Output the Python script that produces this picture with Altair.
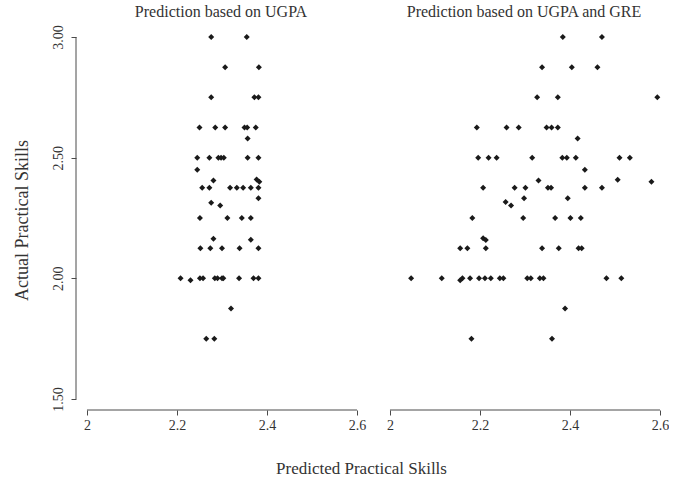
import altair as alt
import pandas as pd

# ---- data ----
left_x = [2.276, 2.355,
          2.307, 2.382,
          2.276, 2.372, 2.381,
          2.250, 2.285, 2.307, 2.350, 2.356, 2.375,
          2.357,
          2.245, 2.272, 2.292, 2.298, 2.304, 2.357, 2.381,
          2.245, 2.281, 2.377, 2.383,
          2.256, 2.272, 2.318, 2.333, 2.347, 2.364, 2.381,
          2.381, 2.276, 2.296,
          2.251, 2.312, 2.344, 2.364,
          2.281, 2.364,
          2.252, 2.274, 2.300, 2.339, 2.381,
          2.208, 2.230, 2.251, 2.258, 2.284, 2.290, 2.300, 2.303, 2.338, 2.370, 2.381,
          2.320,
          2.265, 2.283]
left_y = [3.0, 3.0,
          2.875, 2.875,
          2.75, 2.75, 2.75,
          2.625, 2.625, 2.625, 2.625, 2.625, 2.625,
          2.58,
          2.5, 2.5, 2.5, 2.5, 2.5, 2.5, 2.5,
          2.45, 2.405, 2.41, 2.40,
          2.375, 2.375, 2.375, 2.375, 2.375, 2.375, 2.375,
          2.332, 2.313, 2.302,
          2.25, 2.25, 2.25, 2.25,
          2.164, 2.16,
          2.125, 2.125, 2.125, 2.125, 2.125,
          2.0, 1.992, 2.0, 2.0, 2.0, 2.0, 2.0, 2.0, 2.0, 2.0, 2.0,
          1.875,
          1.75, 1.75]

right_x = [2.384, 2.471,
           2.338, 2.404, 2.461,
           2.327, 2.373, 2.594,
           2.193, 2.259, 2.286, 2.348, 2.359, 2.373,
           2.417,
           2.196, 2.219, 2.237, 2.316, 2.383, 2.393, 2.413, 2.510, 2.533,
           2.433, 2.330, 2.506, 2.581,
           2.207, 2.277, 2.301, 2.351, 2.358, 2.433, 2.471,
           2.298, 2.395, 2.257, 2.269,
           2.183, 2.296, 2.367, 2.401, 2.424,
           2.207, 2.213,
           2.156, 2.172, 2.213, 2.338, 2.375, 2.419, 2.426,
           2.047, 2.115, 2.156, 2.161, 2.178, 2.198, 2.211, 2.224, 2.244, 2.252,
           2.305, 2.313, 2.333, 2.341, 2.481, 2.514,
           2.389,
           2.181, 2.360]
right_y = [3.0, 3.0,
           2.875, 2.875, 2.875,
           2.75, 2.75, 2.75,
           2.625, 2.625, 2.625, 2.625, 2.625, 2.625,
           2.58,
           2.5, 2.5, 2.5, 2.5, 2.5, 2.5, 2.5, 2.5, 2.5,
           2.45, 2.405, 2.409, 2.40,
           2.375, 2.375, 2.375, 2.375, 2.375, 2.375, 2.375,
           2.332, 2.332, 2.316, 2.302,
           2.25, 2.25, 2.25, 2.25, 2.25,
           2.166, 2.159,
           2.125, 2.125, 2.125, 2.125, 2.125, 2.125, 2.125,
           2.0, 2.0, 1.992, 2.0, 2.0, 2.0, 2.0, 2.0, 2.0, 2.0,
           2.0, 2.0, 2.0, 2.0, 2.0, 2.0,
           1.875,
           1.75, 1.75]

x_ticks = [2.0, 2.2, 2.4, 2.6]
y_ticks = [1.5, 2.0, 2.5, 3.0]
titles = ["Prediction based on UGPA", "Prediction based on UGPA and GRE"]
x_title = "Predicted Practical Skills"
y_title = "Actual Practical Skills"

FONT = "Liberation Serif"
AX = "#4a4a4a"
TXT = "#333333"
PW, PH = 290, 386
XDOM = [1.9756, 2.62]
YDOM = [1.4544, 3.054]


def panel(xs, ys, title, show_y, show_xtitle):
    df = pd.DataFrame({"x": xs, "y": ys})
    xscale = alt.Scale(domain=XDOM, nice=False, zero=False)
    yscale = alt.Scale(domain=YDOM, nice=False, zero=False)
    xaxis = alt.Axis(values=x_ticks, format="~g", domain=False, grid=False,
                     tickColor=AX, tickSize=5, labelColor=TXT, labelFont=FONT,
                     labelFontSize=14, labelPadding=3,
                     title=x_title if show_xtitle else None,
                     **({"titleX": 285, "titleY": 63, "titleFont": FONT,
                         "titleFontSize": 17, "titleFontWeight": "normal",
                         "titleColor": TXT, "titleAnchor": "middle",
                         "titleAlign": "center", "titleBaseline": "alphabetic"}
                        if show_xtitle else {}))
    if show_y:
        yaxis = alt.Axis(values=y_ticks, format=".2f", domain=False, grid=False,
                         tickColor=AX, tickSize=5, labelColor=TXT, labelFont=FONT,
                         labelFontSize=14, labelAngle=-90, labelAlign="center",
                         labelBaseline="bottom", labelPadding=6,
                         title=y_title, titleX=-54, titleY=196,
                         titleFont=FONT, titleFontSize=18, titleFontWeight="normal",
                         titleColor=TXT, titleAngle=-90, titleAlign="center",
                         titleBaseline="middle")
    else:
        yaxis = None

    pts = alt.Chart(df).mark_point(shape="diamond", filled=True, size=36,
                                   color="#1a1a1a", opacity=1).encode(
        x=alt.X("x:Q", scale=xscale, axis=xaxis),
        y=alt.Y("y:Q", scale=yscale, axis=yaxis),
    )
    xline = alt.Chart(pd.DataFrame({"a": [x_ticks[0]], "b": [x_ticks[-1]]})).mark_rule(
        color=AX, strokeWidth=1).encode(
        x=alt.X("a:Q", scale=xscale), x2="b:Q", y=alt.value(PH))
    layers = [pts, xline]
    if show_y:
        yline = alt.Chart(pd.DataFrame({"a": [y_ticks[0]], "b": [y_ticks[-1]]})).mark_rule(
            color=AX, strokeWidth=1).encode(
            y=alt.Y("a:Q", scale=yscale), y2="b:Q", x=alt.value(0))
        layers.append(yline)
    return alt.layer(*layers).properties(
        width=PW, height=PH,
        title=alt.TitleParams(title, font=FONT, fontSize=16, fontWeight="normal",
                              color=TXT, anchor="middle", offset=4),
    )


left = panel(left_x, left_y, titles[0], True, True)
right = panel(right_x, right_y, titles[1], False, False)

chart = alt.hconcat(left, right, spacing=13, bounds="flush").properties(
    padding={"left": 13, "top": 4, "right": 0, "bottom": 0}
).configure_view(stroke=None).configure_axis(grid=False)

chart.save("out.html", embed_options={"renderer": "svg", "actions": False})
